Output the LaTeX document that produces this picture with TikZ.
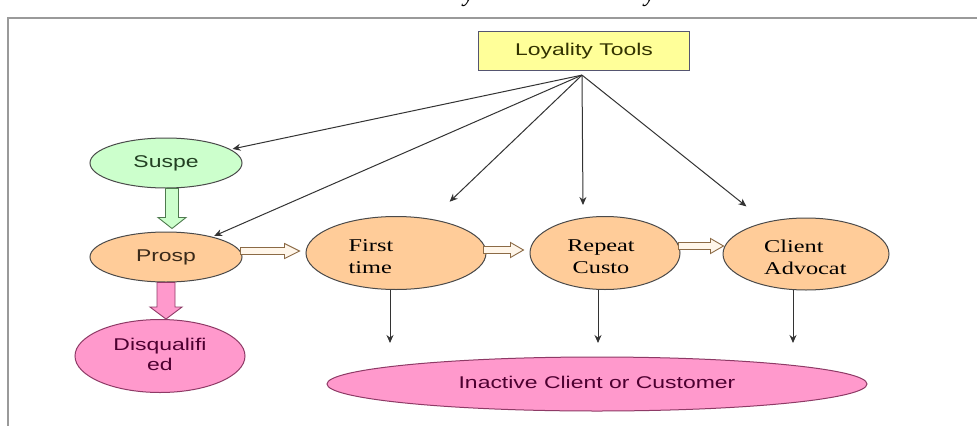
\documentclass[tikz,border=0pt]{standalone}
\usepackage{fontspec}
\setmainfont{Liberation Serif}
\newfontfamily\arialf{Liberation Sans}
\usetikzlibrary{shapes.geometric,arrows.meta,calc}
\definecolor{yfill}{HTML}{FFFF99}
\definecolor{yedge}{HTML}{555570}
\definecolor{gfill}{HTML}{CCFFCC}
\definecolor{ofill}{HTML}{FFCC99}
\definecolor{pfill}{HTML}{FF99CC}
\definecolor{edgec}{HTML}{4A4A4A}
\definecolor{linec}{HTML}{333333}
\definecolor{framec}{HTML}{9A9A9A}
\definecolor{hedge}{HTML}{8B6A45}
\definecolor{hfill}{HTML}{FFF6EA}
\definecolor{gedge}{HTML}{4E7A4E}
\definecolor{pedge}{HTML}{8E3A66}
\definecolor{ptext}{HTML}{4D0030}
\definecolor{gtext}{HTML}{234023}
\definecolor{otext}{HTML}{3A2A1A}
\definecolor{ytext}{HTML}{333300}
\newcommand\mywide[2][c]{\scalebox{1.35}[1]{\begin{tabular}{@{}#1@{}}#2\end{tabular}}}
% vertical hollow arrow: style, start, end, shaft half, head half, head length
\newcommand\vhollow[6]{\draw[#1] ($(#2)+(-#4,0)$) -- ($(#3)+(-#4,-#6)$) -- ($(#3)+(-#5,-#6)$) -- (#3) -- ($(#3)+(#5,-#6)$) -- ($(#3)+(#4,-#6)$) -- ($(#2)+(#4,0)$) -- cycle;}
% horizontal hollow arrow
\newcommand\hhollow[6]{\draw[#1] ($(#2)+(0,-#4)$) -- ($(#3)+(-#6,-#4)$) -- ($(#3)+(-#6,-#5)$) -- (#3) -- ($(#3)+(-#6,#5)$) -- ($(#3)+(-#6,#4)$) -- ($(#2)+(0,#4)$) -- cycle;}
\tikzset{
  ell/.style={ellipse, draw=edgec, line width=1pt, inner sep=0pt},
  sanst/.style={font=\arialf\fontsize{17}{20}\selectfont},
  serift/.style={font=\fontsize{18}{22}\selectfont, inner sep=0pt},
  thin arrow/.style={draw=linec, line width=1pt, -{Stealth[length=8pt,width=7pt]}},
  hollowh/.style={draw=hedge, fill=hfill, line width=0.9pt},
}
\begin{document}
\begin{tikzpicture}[x=1pt,y=-1pt]
\useasboundingbox (0,0) rectangle (978,426);
\fill[white] (0,0) rectangle (978,426);
% frame
\draw[framec, line width=2pt] (8,426) -- (8,18) -- (977,18);
% clipped caption remnants
\begin{scope}
\clip (0,0) rectangle (978,12);
\node[font=\itshape\fontsize{24}{24}\selectfont, anchor=base, inner sep=0pt] (capA) at (469,1) {y};
\node[font=\itshape\fontsize{24}{24}\selectfont, anchor=base, inner sep=0pt] (capB) at (650,1) {y};
\end{scope}
% nodes
\node[draw=yedge, fill=yfill, line width=1.2pt, minimum width=211pt, minimum height=39pt, inner sep=0pt, sanst, text=ytext] (tools) at (584,51) {\mywide{Loyality Tools}};
\node[ell, fill=gfill, minimum width=152pt, minimum height=50pt, sanst, text=gtext] (suspe) at (166,163) {\mywide{Suspe}};
\node[ell, fill=ofill, minimum width=152pt, minimum height=50pt, sanst, text=otext] (prosp) at (166,257) {\mywide{Prosp}};
\node[ell, fill=pfill, draw=pedge, minimum width=170pt, minimum height=73pt, sanst, text=ptext] (disq) at (160,356) {\mywide{Disqualifi\\ed}};
\node[ell, fill=ofill, minimum width=180pt, minimum height=73pt] (first) at (396,253) {};
\node[ell, fill=ofill, minimum width=150pt, minimum height=73pt] (repeat) at (605,253) {};
\node[ell, fill=ofill, minimum width=166pt, minimum height=72pt] (client) at (806,254) {};
\node[ell, fill=pfill, draw=pedge, minimum width=540pt, minimum height=54pt, sanst, text=ptext] (inactive) at (597,384) {\mywide{Inactive Client or Customer}};
% serif texts
\node[serift] (firstT) at (371,258) {\mywide[l]{First\\time}};
\node[serift] (repeatT) at (601,258) {\mywide{Repeat\\Custo}};
\node[serift, anchor=west] (clientT) at (764,259) {\mywide[l]{Client\\Advocat}};
% arrows from Loyalty Tools
\coordinate (o) at ($(tools.south)+(-2,4)$);
\draw[thin arrow, shorten >=2pt] (o) -- (suspe);
\draw[thin arrow, shorten >=2pt] (o) -- (prosp);
\draw[thin arrow, shorten >=25pt] (o) -- (first);
\draw[thin arrow] (o) -- ($(o |- repeat.north)+(1,-11)$);
\draw[thin arrow, shorten >=25pt] (o) -- (client);
% hollow arrows
\coordinate (g1) at ($(suspe.south)+(6,0)$);
\coordinate (g2) at ($(g1 |- prosp.north)+(0,-3)$);
\vhollow{draw=gedge, fill=gfill, line width=0.9pt}{g1}{g2}{6.5}{14}{11}
\coordinate (p1) at (prosp.south);
\coordinate (p2) at (p1 |- disq.north);
\vhollow{draw=pedge, fill=pfill, line width=0.9pt}{p1}{p2}{9}{16}{12}
\coordinate (h1a) at ($(prosp.east)+(-2,-6)$);
\coordinate (h1b) at ($(h1a -| first.west)+(-6,0)$);
\hhollow{hollowh}{h1a}{h1b}{3.5}{7.5}{15}
\coordinate (h2a) at ($(first.east)+(-3,-3)$);
\coordinate (h2b) at ($(h2a -| repeat.west)+(-6,0)$);
\hhollow{hollowh}{h2a}{h2b}{3.5}{7.5}{13}
\coordinate (h3a) at ($(repeat.east)+(-2,-7)$);
\coordinate (h3b) at ($(h3a -| client.west)+(1,0)$);
\hhollow{hollowh}{h3a}{h3b}{3.5}{7.5}{13}
% down arrows
\coordinate (d1) at (390,343);
\coordinate (d2) at (598,343);
\coordinate (d3) at (793,343);
\draw[thin arrow] (d1 |- first.south) -- (d1);
\draw[thin arrow] (d2 |- repeat.south) -- (d2);
\draw[thin arrow] ($(d3 |- client.south)+(0,-1)$) -- (d3);
\end{tikzpicture}
\end{document}
